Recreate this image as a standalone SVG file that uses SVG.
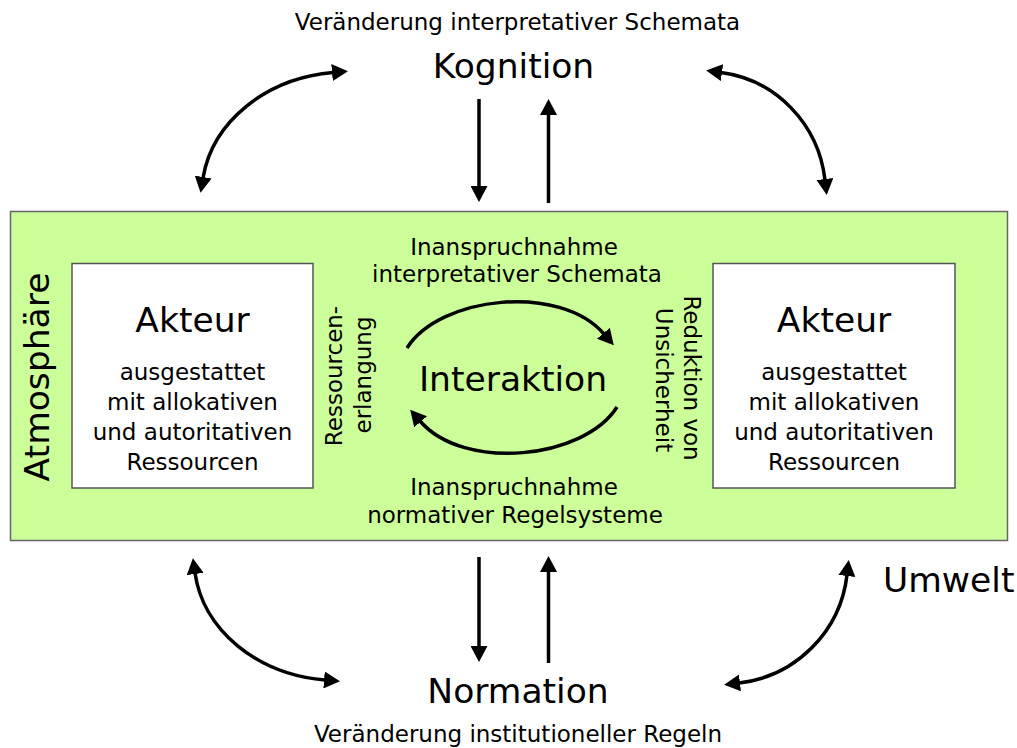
<svg xmlns="http://www.w3.org/2000/svg" width="1017" height="748" viewBox="0 0 1017 748">
<style>
text{font-family:"DejaVu Sans","Liberation Sans",sans-serif;fill:#000}
.s{font-size:23px}
.l{font-size:34.5px}
.c{text-anchor:middle}
.con path{fill:none;stroke:#000;stroke-width:3.5}
</style>
<defs>
<marker id="ah" viewBox="0 0 16 17" refX="1" refY="8.5" markerWidth="16" markerHeight="17" markerUnits="userSpaceOnUse" orient="auto-start-reverse"><path d="M0,0 L16,8.5 L0,17 z" fill="#000"/></marker>
</defs>
<rect width="1017" height="748" fill="#fff"/>
<g id="umwelt-box">
<rect x="10.5" y="211.5" width="997" height="329" fill="#ccff99" stroke="#666" stroke-width="1.5"/>
<text class="l c" transform="translate(49,377) rotate(-90)">Atmosphäre</text>
</g>
<g id="akteur-links">
<rect x="72" y="263.5" width="241" height="224.5" fill="#fff" stroke="#555" stroke-width="1.5"/>
<text class="l c" x="192.5" y="332">Akteur</text>
<text class="s c" x="192.5" y="380">ausgestattet</text>
<text class="s c" x="192.5" y="410">mit allokativen</text>
<text class="s c" x="192.5" y="440">und autoritativen</text>
<text class="s c" x="192.5" y="470">Ressourcen</text>
</g>
<g id="akteur-rechts">
<rect x="713" y="263.5" width="242" height="224.5" fill="#fff" stroke="#555" stroke-width="1.5"/>
<text class="l c" x="834" y="332">Akteur</text>
<text class="s c" x="834" y="380">ausgestattet</text>
<text class="s c" x="834" y="410">mit allokativen</text>
<text class="s c" x="834" y="440">und autoritativen</text>
<text class="s c" x="834" y="470">Ressourcen</text>
</g>
<g id="interaktion">
<text class="l c" x="513" y="391">Interaktion</text>
<text class="s c" x="514" y="255">Inanspruchnahme</text>
<text class="s c" x="517" y="282">interpretativer Schemata</text>
<text class="s c" x="514" y="495">Inanspruchnahme</text>
<text class="s c" x="515" y="523">normativer Regelsysteme</text>
<text class="s c" transform="translate(342,376) rotate(-90)">Ressourcen-</text>
<text class="s c" transform="translate(371,375) rotate(-90)">erlangung</text>
<text class="s c" transform="translate(684,378) rotate(90)">Reduktion von</text>
<text class="s c" transform="translate(656,380) rotate(90)">Unsicherheit</text>
</g>
<g id="kognition">
<text class="s c" x="517.5" y="30">Veränderung interpretativer Schemata</text>
<text class="l c" x="513.5" y="78">Kognition</text>
</g>
<g id="normation">
<text class="l c" x="518" y="703">Normation</text>
<text class="s c" x="518" y="742">Veränderung institutioneller Regeln</text>
</g>
<g id="umwelt">
<text class="l" x="883" y="592">Umwelt</text>
</g>
<g class="con" id="connectors">
<path d="M479,99 V187" marker-end="url(#ah)"/>
<path d="M548.5,203 V114" marker-end="url(#ah)"/>
<path d="M479,557 V647" marker-end="url(#ah)"/>
<path d="M548.5,663 V571" marker-end="url(#ah)"/>
<path d="M203,178 A146 123 0 0 1 333,72.5" marker-start="url(#ah)" marker-end="url(#ah)"/>
<path d="M721,72.5 A120 123 0 0 1 825,180" marker-start="url(#ah)" marker-end="url(#ah)"/>
<path d="M195,573 A145 122 0 0 0 325,680" marker-start="url(#ah)" marker-end="url(#ah)"/>
<path d="M739,683 A123 123 0 0 0 847,575" marker-start="url(#ah)" marker-end="url(#ah)"/>
<path d="M407,348 C440,296 560,283 604,334" marker-end="url(#ah)"/>
<path d="M617,407 C584,459 464,472 420,421" marker-end="url(#ah)"/>
</g>
</svg>
